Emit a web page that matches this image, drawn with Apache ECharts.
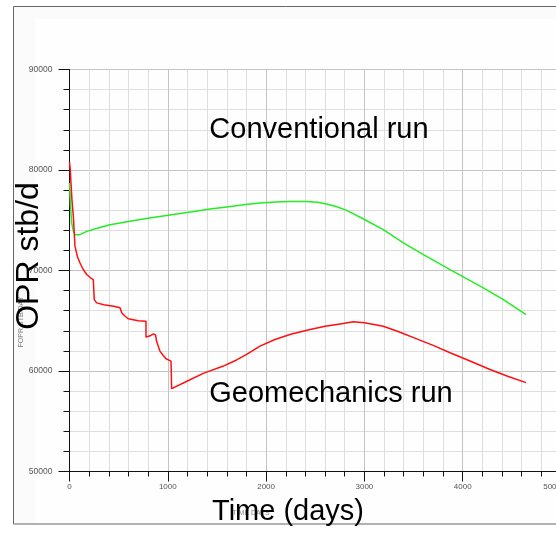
<!DOCTYPE html>
<html>
<head>
<meta charset="utf-8">
<script src="https://cdn.jsdelivr.net/npm/echarts@6/dist/echarts.min.js"></script>
<style>
  html, body { margin: 0; padding: 0; background: #ffffff; }
  #chart { width: 556px; height: 533px; }
</style>
</head>
<body>
<div id="chart"></div>
<script>
// Field oil production rate (stb/d) against time (days) for two runs.
const convDays = [0, 10, 22, 40, 56, 73, 100, 175, 300, 412, 600, 751, 900, 1090, 1250, 1429, 1600, 1768, 1938, 2100, 2243, 2413, 2520, 2616, 2720, 2820, 3006, 3192, 3396, 3600, 3871, 4210, 4414, 4644];
const convRate = [78700, 76500, 74730, 73900, 73560, 73460, 73550, 73890, 74250, 74560, 74870, 75120, 75350, 75620, 75840, 76120, 76330, 76540, 76710, 76820, 76870, 76870, 76780, 76610, 76350, 75980, 75050, 74060, 72740, 71580, 70090, 68270, 67110, 65620];

const geoDays = [0, 8, 15, 25, 39, 56, 80, 107, 140, 175, 210, 242, 252, 252, 276, 350, 450, 514, 531, 560, 598, 700, 778, 778, 820, 853, 875, 885, 897, 920, 950, 982, 1033, 1039, 1039, 1200, 1361, 1565, 1700, 1802, 1938, 2090, 2250, 2447, 2600, 2785, 2887, 3000, 3192, 3350, 3532, 3700, 3871, 4050, 4278, 4450, 4644];
const geoRate = [80800, 80000, 78700, 77000, 75400, 72400, 71400, 70750, 70100, 69600, 69300, 69100, 69000, 67100, 66780, 66600, 66450, 66300, 65800, 65500, 65200, 65000, 64950, 63370, 63500, 63700, 63600, 63000, 62640, 61980, 61600, 61220, 60980, 60900, 58240, 59000, 59760, 60490, 61100, 61650, 62470, 63140, 63650, 64130, 64450, 64730, 64900, 64800, 64460, 63900, 63200, 62550, 61810, 61100, 60150, 59500, 58840];

const xTicks = { min: 0, max: 5000, interval: 1000 };
const yTicks = { min: 50000, max: 90000, interval: 10000 };

const seriesNames = ['Conventional run', 'Geomechanics run'];
const axisTitles = { x: 'Time (days)', y: 'OPR stb/d', xSmall: 'TIME DAYS', ySmall: 'FOPR STB/DAY' };

const pairs = (xs, ys) => xs.map((x, i) => [x, ys[i]]);
const plain = v => String(v);

const FONT = "'Liberation Sans', Arial, sans-serif";
const chart = echarts.init(document.getElementById('chart'), null, { renderer: 'canvas' });

chart.setOption({
  animation: false,
  // plot area runs a few pixels past the right edge of the canvas
  grid: { left: 69.5, width: 491.5, top: 69.5, height: 402, containLabel: false, outerBoundsMode: 'none' },
  xAxis: {
    type: 'value',
    min: xTicks.min, max: xTicks.max, interval: xTicks.interval,
    axisLine: { show: true, onZero: false, lineStyle: { color: '#111', width: 1 } },
    axisTick: { show: true, length: 10, lineStyle: { color: '#111' } },
    minorTick: { show: true, splitNumber: 5, length: 5, lineStyle: { color: '#111' } },
    splitLine: { show: true, lineStyle: { color: '#c4c4c4', width: 1 } },
    minorSplitLine: { show: true, lineStyle: { color: '#dedede', width: 1 } },
    axisLabel: { color: '#555', fontSize: 8, fontFamily: FONT, margin: 11, formatter: plain, alignMaxLabel: 'right' }
  },
  yAxis: {
    type: 'value',
    min: yTicks.min, max: yTicks.max, interval: yTicks.interval,
    axisLine: { show: true, lineStyle: { color: '#111', width: 1 } },
    axisTick: { show: true, length: 11, lineStyle: { color: '#111' } },
    minorTick: { show: true, splitNumber: 5, length: 6, lineStyle: { color: '#111' } },
    splitLine: { show: true, lineStyle: { color: '#c4c4c4', width: 1 } },
    minorSplitLine: { show: true, lineStyle: { color: '#dedede', width: 1 } },
    axisLabel: { color: '#555', fontSize: 8.5, fontFamily: FONT, margin: 17, formatter: plain }
  },
  series: [
    {
      name: seriesNames[0], type: 'line', data: pairs(convDays, convRate),
      showSymbol: false, smooth: false,
      lineStyle: { color: '#22ee22', width: 1.5 }, z: 3
    },
    {
      name: seriesNames[1], type: 'line', data: pairs(geoDays, geoRate),
      showSymbol: false, smooth: false,
      lineStyle: { color: '#ff1010', width: 1.5 }, z: 4
    }
  ],
  graphic: [
    // outer frame and inner panel
    { type: 'rect', z: -10, silent: true, shape: { x: 13.5, y: 6.5, width: 600, height: 517.5 },
      style: { fill: '#fbfbfb', stroke: '#666', lineWidth: 1 } },
    { type: 'rect', z: -9, silent: true, shape: { x: 35, y: 19, width: 600, height: 504 },
      style: { fill: '#fefefe' } },
    // small axis captions
    { type: 'text', z: 50, x: 251, y: 513, silent: true,
      style: { text: axisTitles.xSmall, font: '7px ' + FONT, fill: '#888', textAlign: 'center', textVerticalAlign: 'middle' } },
    { type: 'text', z: 50, x: 21, y: 322, rotation: Math.PI / 2, silent: true,
      style: { text: axisTitles.ySmall, font: '7px ' + FONT, fill: '#777', textAlign: 'center', textVerticalAlign: 'middle' } },
    // large axis titles
    { type: 'text', z: 60, x: 288, y: 512, silent: true,
      style: { text: axisTitles.x, font: '29px ' + FONT, fill: '#000', textAlign: 'center', textVerticalAlign: 'middle' } },
    { type: 'text', z: 60, x: 29, y: 256, rotation: Math.PI / 2, silent: true,
      style: { text: axisTitles.y, font: '32px ' + FONT, fill: '#000', textAlign: 'center', textVerticalAlign: 'middle' } },
    // run labels
    { type: 'text', z: 60, x: 319, y: 130, silent: true,
      style: { text: seriesNames[0], font: '29px ' + FONT, fill: '#000', textAlign: 'center', textVerticalAlign: 'middle' } },
    { type: 'text', z: 60, x: 331, y: 394, silent: true,
      style: { text: seriesNames[1], font: '29px ' + FONT, fill: '#000', textAlign: 'center', textVerticalAlign: 'middle' } }
  ]
});
</script>
</body>
</html>
